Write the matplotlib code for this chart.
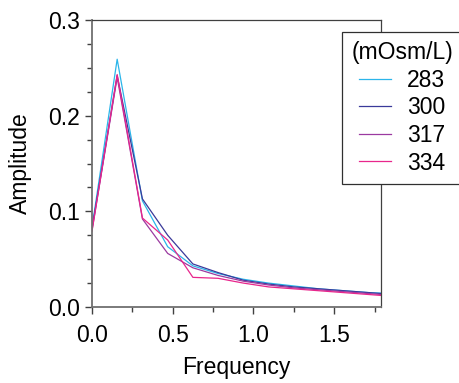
import matplotlib
matplotlib.use("Agg")
import matplotlib.pyplot as plt
from matplotlib.ticker import MultipleLocator

plt.rcParams["font.family"] = ["Liberation Sans", "DejaVu Sans"]

# frequency bins (step 0.15625)
freq = [0.0, 0.156, 0.3125, 0.469, 0.625, 0.781, 0.9375,
        1.094, 1.25, 1.406, 1.5625, 1.719, 1.875]

amp_283 = [0.083, 0.259, 0.111, 0.063, 0.043, 0.035, 0.029,
           0.025, 0.022, 0.019, 0.017, 0.015, 0.014]
amp_300 = [0.082, 0.242, 0.113, 0.075, 0.045, 0.036, 0.028,
           0.024, 0.021, 0.019, 0.017, 0.015, 0.013]
amp_317 = [0.080, 0.240, 0.092, 0.056, 0.041, 0.033, 0.027,
           0.023, 0.020, 0.018, 0.016, 0.014, 0.012]
amp_334 = [0.079, 0.243, 0.093, 0.070, 0.031, 0.030, 0.025,
           0.021, 0.019, 0.017, 0.015, 0.013, 0.011]

labels = ["283", "300", "317", "334"]
colors = ["#2bb5ea", "#3a3a9a", "#9b3aa0", "#e8268c"]

FS = 16.5

fig = plt.figure(figsize=(4.59, 3.83), dpi=100)
ax = fig.add_axes([0.2004, 0.1984, 0.6296, 0.7494])

for vals, lab, col in zip([amp_283, amp_300, amp_317, amp_334], labels, colors):
    ax.plot(freq, vals, color=col, linewidth=0.9, label=lab)

ax.set_xlim(0, 1.79)
ax.set_ylim(0, 0.3)
ax.xaxis.set_major_locator(MultipleLocator(0.5))
ax.xaxis.set_minor_locator(MultipleLocator(0.25))
ax.yaxis.set_major_locator(MultipleLocator(0.1))
ax.yaxis.set_minor_locator(MultipleLocator(0.025))
ax.xaxis.set_major_formatter(plt.FormatStrFormatter("%.1f"))
ax.yaxis.set_major_formatter(plt.FormatStrFormatter("%.1f"))

for side in ["left", "bottom"]:
    ax.spines[side].set_color("#707070")
    ax.spines[side].set_linewidth(1.3)
for side in ["top", "right"]:
    ax.spines[side].set_color("#404040")
    ax.spines[side].set_linewidth(0.9)

ax.tick_params(which="major", direction="out", length=5, width=1.0,
               color="#404040", labelsize=FS)
ax.tick_params(which="minor", direction="out", length=3.5, width=1.0,
               color="#404040")
ax.tick_params(axis="x", which="major", pad=7.5)
ax.tick_params(axis="y", which="major", pad=3.5)

ax.set_xlabel("Frequency", fontsize=FS, va="top")
ax.set_ylabel("Amplitude", fontsize=FS)
ax.xaxis.set_label_coords(0.5, -0.172)
ax.yaxis.set_label_coords(-0.207, 0.5)

leg = ax.legend(title="(mOsm/L)", loc="upper left",
                bbox_to_anchor=(342 / 459, 1 - 32 / 383),
                bbox_transform=fig.transFigure, borderaxespad=0,
                fontsize=FS, title_fontsize=FS, frameon=True, fancybox=False,
                handlelength=1.4, handletextpad=0.7, labelspacing=0.2,
                borderpad=0.4)
leg.get_frame().set_edgecolor("#303030")
leg.get_frame().set_linewidth(0.9)
leg.get_frame().set_alpha(1)
leg.set_zorder(5)

fig.savefig("out.png", dpi=100)
